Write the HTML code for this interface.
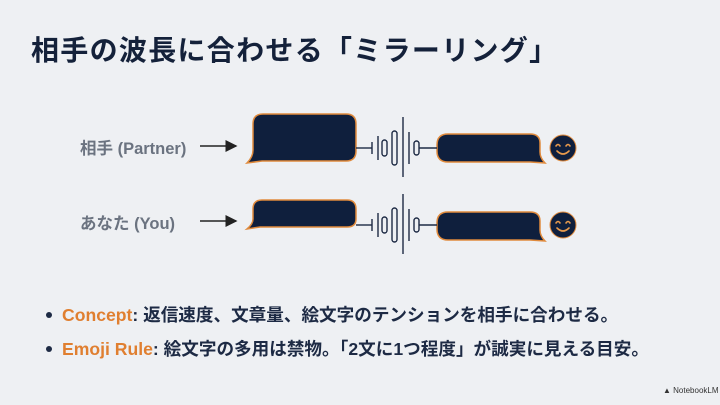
<!DOCTYPE html>
<html><head><meta charset="utf-8"><style>
html,body{margin:0;padding:0;}
body{width:720px;height:405px;background:#eef0f3;overflow:hidden;position:relative;font-family:"Liberation Sans","Noto Sans CJK JP",sans-serif;}
.t{position:absolute;white-space:nowrap;}
</style></head><body>
<div class="t" style="left:31px;top:29px;font-size:28px;font-weight:bold;color:#14213a;letter-spacing:1.3px;">相手の波長に合わせる「ミラーリング」</div>
<div class="t" style="left:80px;top:135px;font-size:16.5px;color:#6b7380;font-weight:600;">相手 (Partner)</div>
<div class="t" style="left:80px;top:210px;font-size:16.5px;color:#6b7380;font-weight:600;">あなた (You)</div>
<svg width="720" height="405" style="position:absolute;left:0;top:0">
<defs><marker id="a" markerWidth="8" markerHeight="8" refX="7" refY="4" orient="auto"><path d="M0,0 L8,4 L0,8 z" fill="#222"/></marker></defs>
<line x1="200" y1="146" x2="236" y2="146" stroke="#222" stroke-width="1.5" marker-end="url(#a)"/>
<line x1="200" y1="221" x2="236" y2="221" stroke="#222" stroke-width="1.5" marker-end="url(#a)"/>
<g fill="#0f1f3d" stroke="#e08a3c" stroke-width="1.5">
<path d="M263,114 H346 Q356,114 356,124 V151 Q356,161 346,161 H262 L247,163 Q253,157 253,150 V124 Q253,114 263,114 Z"/>
<path d="M262,200 H347 Q356,200 356,209 V219 Q356,227 347,227 H260 L247,229 Q253,224 253,219 V209 Q253,200 262,200 Z"/>
<path d="M448,134 H530 Q540,134 540,143 V152 Q540,158 545,163 L530,162 H448 Q437,162 437,151 V145 Q437,134 448,134 Z"/>
<path d="M448,212 H530 Q540,212 540,221 V230 Q540,236 545,241 L530,240 H448 Q437,240 437,229 V223 Q437,212 448,212 Z"/>
</g>
<g fill="none" stroke="#1d2a44" stroke-width="1.4">
<g id="w1">
<line x1="356" y1="148" x2="372" y2="148"/><line x1="372" y1="142" x2="372" y2="154"/>
<line x1="378" y1="136" x2="378" y2="160"/>
<rect x="382" y="140" width="5" height="16" rx="2.5"/>
<rect x="392" y="131" width="5" height="34" rx="2.5"/>
<line x1="403" y1="117" x2="403" y2="177"/>
<line x1="409" y1="132" x2="409" y2="164"/>
<rect x="414" y="141" width="5" height="14" rx="2.5"/>
<line x1="419" y1="148" x2="437" y2="148"/>
</g>
<use href="#w1" y="77"/>
</g>
<g>
<circle cx="563" cy="148" r="13" fill="#0f1f3d" stroke="#e08a3c" stroke-width="1"/>
<circle cx="563" cy="225" r="13" fill="#0f1f3d" stroke="#e08a3c" stroke-width="1"/>
<g fill="none" stroke="#e89a4c" stroke-width="1.6" stroke-linecap="round">
<path d="M556,146 q2,-3 4,0 M566,146 q2,-3 4,0 M557,151 q6,6 12,0"/>
<path d="M556,223 q2,-3 4,0 M566,223 q2,-3 4,0 M557,228 q6,6 12,0"/>
</g>
</g>
<circle cx="49" cy="315" r="3" fill="#1d2a44"/>
<circle cx="49" cy="349" r="3" fill="#1d2a44"/>
</svg>
<div class="t" style="left:62px;top:302px;font-size:17.6px;font-weight:bold;color:#1d2a44;"><span style="color:#e07f30">Concept</span>: 返信速度、文章量、絵文字のテンションを相手に合わせる。</div>
<div class="t" style="left:62px;top:336px;font-size:17.6px;font-weight:bold;color:#1d2a44;"><span style="color:#e07f30">Emoji Rule</span>: 絵文字の多用は禁物。「2文に1つ程度」が誠実に見える目安。</div>
<div class="t" style="left:663px;top:386px;font-size:8px;color:#333;">▲ NotebookLM</div>
</body></html>
